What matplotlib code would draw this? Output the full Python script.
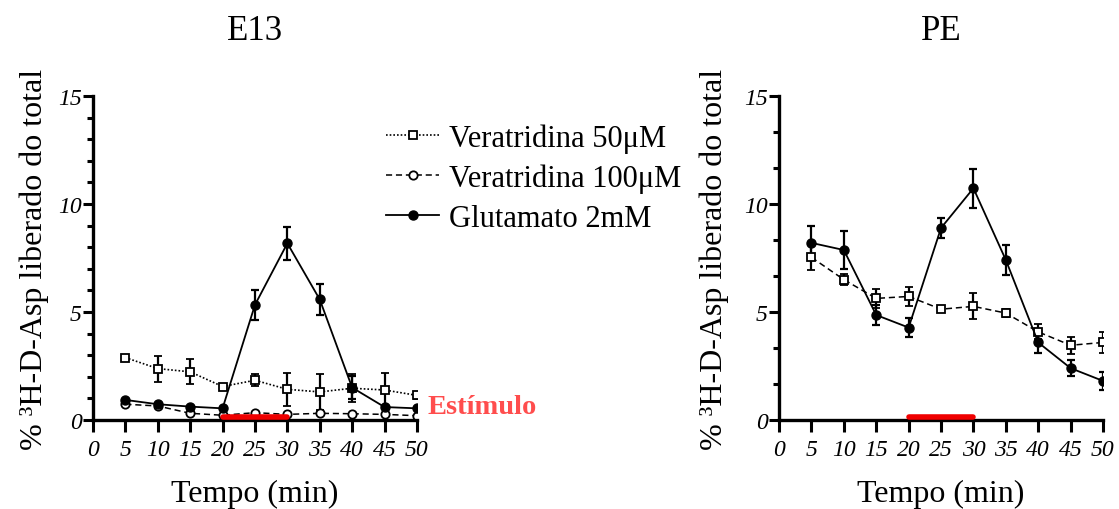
"""Liberação de [3H]-D-Asp em retina E13 e PE."""

import matplotlib

matplotlib.use("Agg")
import matplotlib.pyplot as plt
from matplotlib.ticker import MultipleLocator

plt.rcParams["font.family"] = ["Liberation Serif", "DejaVu Serif"]

tempo = [5, 10, 15, 20, 25, 30, 35, 40, 45, 50]

# E13
e13_vera50 = [2.89, 2.38, 2.23, 1.55, 1.84, 1.42, 1.30, 1.47, 1.39, 1.14]
e13_vera50_err = [0.0, 0.6, 0.58, 0.12, 0.27, 0.77, 0.85, 0.65, 0.8, 0.15]
e13_vera100 = [0.73, 0.65, 0.31, 0.22, 0.34, 0.26, 0.31, 0.29, 0.26, 0.20]
e13_glut = [0.93, 0.73, 0.62, 0.54, 5.33, 8.18, 5.58, 1.50, 0.60, 0.54]
e13_glut_err = [0.0, 0.0, 0.0, 0.0, 0.7, 0.77, 0.72, 0.55, 0.0, 0.0]

# PE
pe_vera = [7.53, 6.50, 5.63, 5.72, 5.13, 5.26, 4.95, 4.08, 3.46, 3.59]
pe_vera_err = [0.6, 0.25, 0.43, 0.46, 0.15, 0.6, 0.2, 0.35, 0.4, 0.5]
pe_glut = [8.20, 7.87, 4.86, 4.28, 8.89, 10.73, 7.41, 3.59, 2.40, 1.81]
pe_glut_err = [0.8, 0.9, 0.45, 0.42, 0.48, 0.9, 0.7, 0.5, 0.38, 0.4]

labels = ["Veratridina 50\u03bcM", "Veratridina 100\u03bcM", "Glutamato 2mM"]
estimulo = (20, 30)

err_kw = dict(elinewidth=1.6, capsize=3.2, capthick=1.6, ecolor="black")


def style_axis(ax, title, minor_step, ylabel_x):
    ax.set_xlim(0, 50)
    ax.set_ylim(0, 15)
    ax.xaxis.set_major_locator(MultipleLocator(5))
    ax.yaxis.set_major_locator(MultipleLocator(5))
    ax.yaxis.set_minor_locator(MultipleLocator(minor_step))
    for side in ("top", "right"):
        ax.spines[side].set_visible(False)
    for side in ("left", "bottom"):
        ax.spines[side].set_linewidth(2.4)
    ax.tick_params(axis="x", which="major", length=8.5, width=2.2, pad=5)
    ax.tick_params(axis="y", which="major", length=7, width=2.2, pad=1)
    ax.tick_params(axis="y", which="minor", length=4, width=2.2)
    for lab in ax.get_xticklabels() + ax.get_yticklabels():
        lab.set_fontstyle("italic")
        lab.set_fontsize(17)
    ax.set_title(title, fontsize=25, pad=41)
    ax.set_xlabel("Tempo (min)", fontsize=23, labelpad=14)
    ax.set_ylabel("% \u00b3H-D-Asp liberado do total", fontsize=23)
    ax.yaxis.set_label_coords(ylabel_x, 0.5)
    ax.plot(estimulo, [0.12, 0.12], color="#f00000", linewidth=4, solid_capstyle="round",
            clip_on=False, zorder=5)


fig = plt.figure(figsize=(11.19, 5.10), dpi=100)
ax1 = fig.add_axes([0.0831, 0.1745, 0.2895, 0.6353])
ax2 = fig.add_axes([0.6962, 0.1745, 0.2895, 0.6353])

# painel E13
h1 = ax1.errorbar(tempo, e13_vera50, yerr=e13_vera50_err, color="black", linestyle=(0, (1, 1.2)),
                  linewidth=1.2, marker="s", markersize=6, markerfacecolor="white",
                  markeredgewidth=1.3, label=labels[0], **err_kw)
h2 = ax1.errorbar(tempo, e13_vera100, color="black", linestyle=(0, (4, 2.5)),
                  linewidth=1.1, marker="o", markersize=6, markerfacecolor="white",
                  markeredgewidth=1.3, label=labels[1], **err_kw)
h3 = ax1.errorbar(tempo, e13_glut, yerr=e13_glut_err, color="black", linestyle="-",
                  linewidth=1.3, marker="o", markersize=6.5, label=labels[2], **err_kw)
style_axis(ax1, "E13", 1, -0.136)

# painel PE
ax2.errorbar(tempo, pe_vera, yerr=pe_vera_err, color="black", linestyle=(0, (4, 2.5)),
             linewidth=1.1, marker="s", markersize=6, markerfacecolor="white",
             markeredgewidth=1.3, **err_kw)
ax2.errorbar(tempo, pe_glut, yerr=pe_glut_err, color="black", linestyle="-",
             linewidth=1.3, marker="o", markersize=6.5, **err_kw)
style_axis(ax2, "PE", 5 / 3, -0.154)

fig.legend(
    handles=[h1[0], h2[0], h3[0]],
    labels=labels,
    loc="upper left",
    bbox_to_anchor=(386 / 1119, 1 - 124 / 510),
    frameon=False,
    fontsize=22,
    borderpad=0,
    borderaxespad=0,
    handlelength=1.75,
    handletextpad=0.3,
    labelspacing=0.36,
)

fig.text(428 / 1119, 1 - 407 / 510, "Estímulo", color="#ff4d4d", fontsize=20.5,
         fontweight="bold", ha="left", va="center")

fig.savefig("out.png", dpi=100)
